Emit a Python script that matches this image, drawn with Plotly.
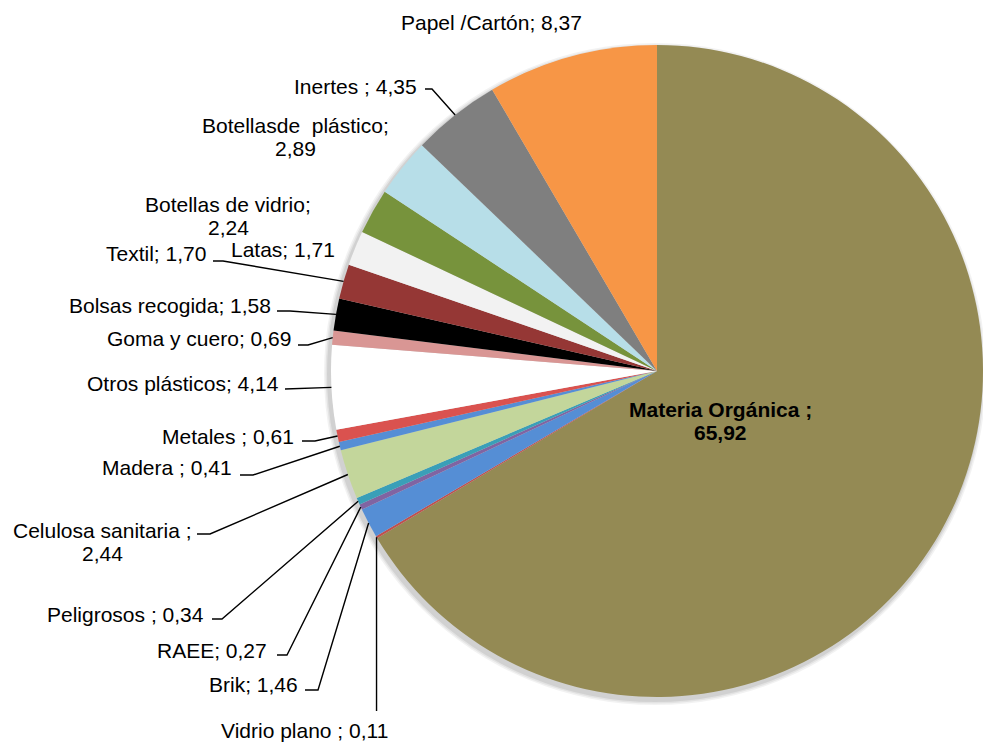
import math
import plotly.graph_objects as go

# Composition of collected municipal waste (%)
categories = [
    "Materia Orgánica ", "Vidrio plano ", "Brik", "RAEE", "Peligrosos ",
    "Celulosa sanitaria ", "Madera ", "Metales ", "Otros plásticos",
    "Goma y cuero", "Bolsas recogida", "Textil", "Latas",
    "Botellas de vidrio", "Botellasde\u00a0 plástico", "Inertes ", "Papel /Cartón",
]
values = [65.92, 0.11, 1.46, 0.27, 0.34, 2.44, 0.41, 0.61, 4.14,
          0.69, 1.58, 1.70, 1.71, 2.24, 2.89, 4.35, 8.37]
colors = [
    "#948A54", "#C0504D", "#558ED5", "#8064A2", "#3A9FB8",
    "#C3D69B", "#558ED5", "#DA524F", "#FFFFFF",
    "#D99694", "#000000", "#953735", "#F2F2F2",
    "#77933C", "#B7DEE8", "#7F7F7F", "#F79646",
]

W, H = 983, 745
CX, CY, R = 657, 371, 326  # pie centre and radius in pixels
FONT = "Liberation Sans, Arial, sans-serif"
FS = 21


def fx(x):
    return x / W


def fy(y):
    return 1 - y / H


def fmt(v):
    return f"{v:.2f}".replace(".", ",")


# mid-angle point on the rim of every slice (clockwise from 12 o'clock)
total = sum(values)
rim = []
acc = 0.0
for v in values:
    a = 2 * math.pi * (acc + v / 2) / total
    rim.append((CX + R * math.sin(a), CY - R * math.cos(a)))
    acc += v

# label placement: (x, y, xanchor, split into two lines, leader start, elbow length)
place = {
    "Materia Orgánica ": (720, 421, "center", True, None, None),
    "Vidrio plano ": (304, 730, "center", False, "vertical", None),
    "Brik": (299, 684, "right", False, (305, 690), 13),
    "RAEE": (268, 650, "right", False, (277, 655), 10),
    "Peligrosos ": (205, 614, "right", False, (212, 619), 10),
    "Celulosa sanitaria ": (102, 542, "center", True, (197, 534), 13),
    "Madera ": (233, 467, "right", False, (240, 475), 13),
    "Metales ": (295, 436, "right", False, (302, 441), 13),
    "Otros plásticos": (280, 383, "right", False, (285, 389), 0),
    "Goma y cuero": (292, 338, "right", False, (298, 345), 10),
    "Bolsas recogida": (272, 306, "right", False, (277, 311), 13),
    "Textil": (207, 254, "right", False, (213, 261), 10),
    "Latas": (336, 249, "right", False, None, None),
    "Botellas de vidrio": (228, 216, "center", True, None, None),
    "Botellasde\u00a0 plástico": (295, 137, "center", True, None, None),
    "Inertes ": (418, 86, "right", False, (425, 89), 7),
    "Papel /Cartón": (491, 22, "center", False, None, None),
}

fig = go.Figure(go.Pie(
    labels=categories,
    values=values,
    marker=dict(colors=colors, line=dict(width=0)),
    sort=False,
    direction="clockwise",
    rotation=0,
    textinfo="none",
    hovertemplate="%{label}: %{value}<extra></extra>",
    showlegend=False,
    domain=dict(x=[fx(CX - R), fx(CX + R)],
                y=[fy(CY + R), fy(CY - R)]),
))

shapes = []
# soft drop shadow under the pie
for k, op in [(5, 0.05), (3.5, 0.06), (2, 0.08)]:
    ox, oy = CX - 2, CY + 3
    shapes.append(dict(
        type="circle", xref="paper", yref="paper", layer="below",
        x0=fx(ox - R - k), x1=fx(ox + R + k),
        y0=fy(oy + R + k), y1=fy(oy - R - k),
        fillcolor=f"rgba(0,0,0,{op})", line=dict(width=0),
    ))

annotations = []
for i, (name, v) in enumerate(zip(categories, values)):
    x, y, anchor, two_lines, start, elbow = place[name]
    bold = name.startswith("Materia")
    first = f"{name};"
    second = fmt(v)
    if two_lines:
        lines = [(first, y - 11.5), (second, y + 11.5)]
    else:
        lines = [(f"{first} {second}", y)]
    for txt, yy in lines:
        annotations.append(dict(
            x=fx(x), y=fy(yy), xref="paper", yref="paper",
            text=f"<b>{txt}</b>" if bold else txt,
            showarrow=False, xanchor=anchor, yanchor="middle",
            borderpad=0, font=dict(family=FONT, size=FS, color="black"),
        ))
    # leader line from label to the rim of its slice
    if start is None:
        continue
    px_, py_ = rim[i]
    if start == "vertical":
        pts = [(px_, 711), (px_, py_)]
    else:
        sx, sy = start
        pts = [(sx, sy)]
        if elbow:
            pts.append((sx + elbow, sy))
        pts.append((px_, py_))
    path = "M " + " L ".join(f"{fx(a):.5f},{fy(b):.5f}" for a, b in pts)
    shapes.append(dict(type="path", xref="paper", yref="paper", path=path,
                       line=dict(color="black", width=1.4)))

fig.update_layout(
    width=W, height=H,
    margin=dict(l=0, r=0, t=0, b=0),
    paper_bgcolor="white", plot_bgcolor="white",
    shapes=shapes, annotations=annotations,
)

fig.write_html("out.html")
